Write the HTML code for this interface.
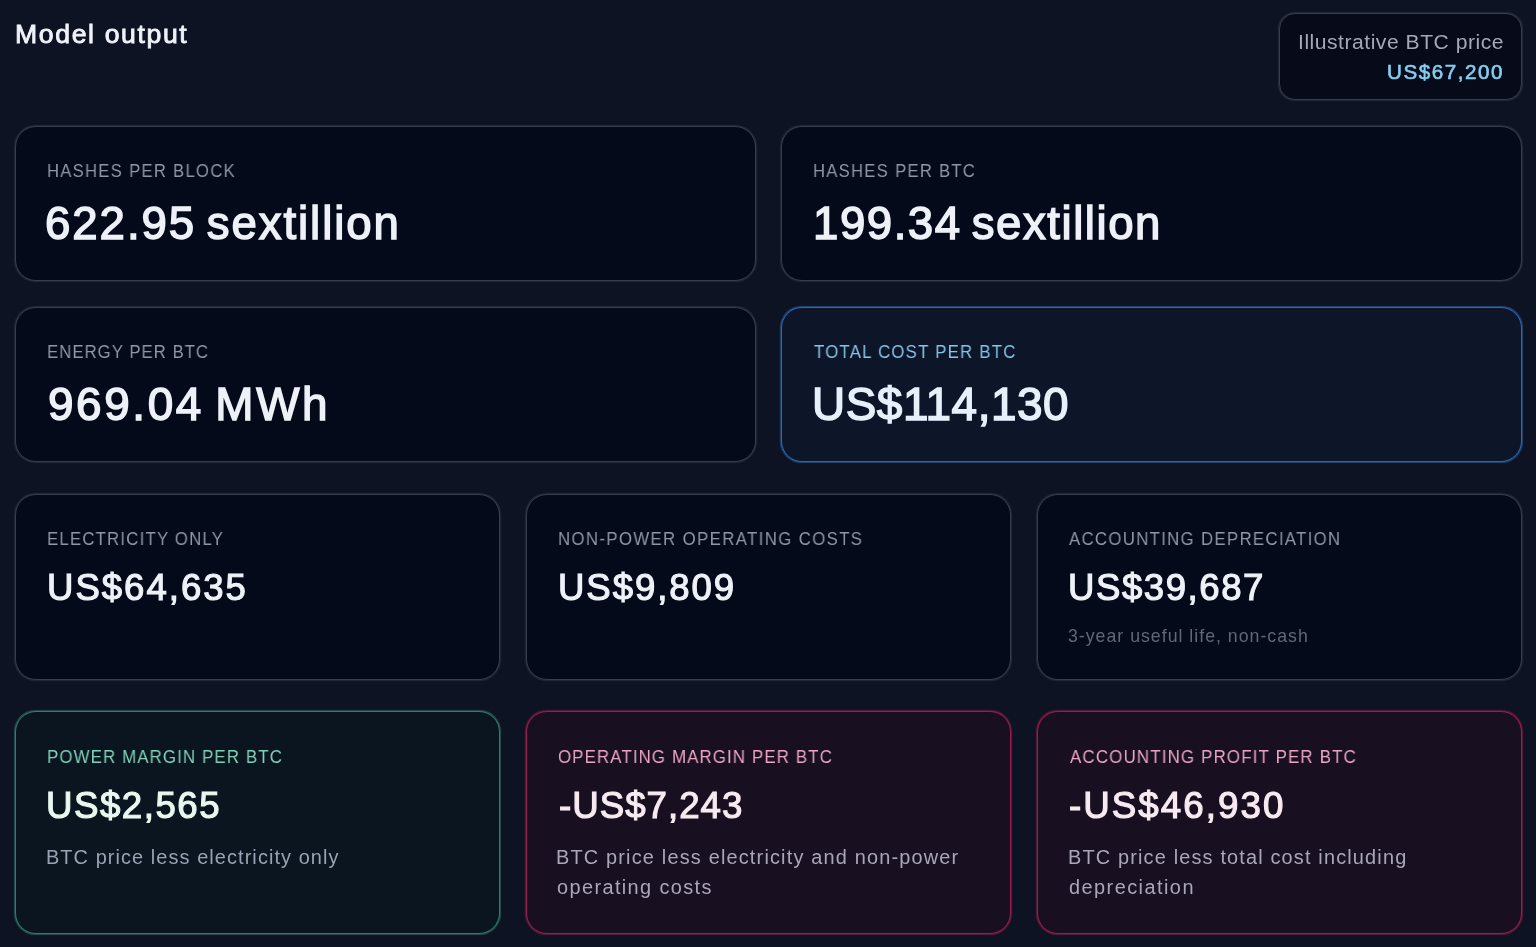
<!DOCTYPE html>
<html>
<head>
<meta charset="utf-8">
<style>
html,body{margin:0;padding:0;}
body{width:1536px;height:947px;overflow:hidden;background:#0d1323;font-family:"Liberation Sans",sans-serif;position:relative;}
.t{position:absolute;white-space:nowrap;line-height:1;will-change:transform;}
.card{position:absolute;box-sizing:border-box;border:1px solid #363d4f;border-radius:21px;background:#050a1a;box-shadow:0 0 1px 0.3px rgba(54,61,79,0.5);}
</style>
</head>
<body>
<div class="card" style="left:1279px;top:13px;width:243px;height:87px;border-radius:16px;background:#060a19;"></div>
<div class="card" style="left:15px;top:126px;width:741px;height:155px;"></div>
<div class="card" style="left:781px;top:126px;width:741px;height:155px;"></div>
<div class="card" style="left:15px;top:307px;width:741px;height:155px;"></div>
<div class="card" style="left:781px;top:307px;width:741px;height:155px;border-color:#2d68ab;background:#0d1628;box-shadow:0 0 1px 0.3px rgba(45,104,171,0.6);"></div>
<div class="card" style="left:15px;top:494px;width:485px;height:186px;"></div>
<div class="card" style="left:526px;top:494px;width:485px;height:186px;"></div>
<div class="card" style="left:1037px;top:494px;width:485px;height:186px;"></div>
<div class="card" style="left:15px;top:711px;width:485px;height:223px;border-color:#337a70;background:#0a151f;box-shadow:0 0 1px 0.3px rgba(51,122,112,0.6);"></div>
<div class="card" style="left:526px;top:711px;width:485px;height:223px;border-color:#9a1d4d;background:#181021;box-shadow:0 0 1px 0.3px rgba(154,29,77,0.6);"></div>
<div class="card" style="left:1037px;top:711px;width:485px;height:223px;border-color:#9a1d4d;background:#181021;box-shadow:0 0 1px 0.3px rgba(154,29,77,0.6);"></div>

<div class="t" id="title" style="top:20.65px;font-size:26.60px;letter-spacing:1.636px;color:#f1f3fa;left:14.50px;-webkit-text-stroke:0.86px #f1f3fa;">Model output</div>
<div class="t" id="plab" style="top:30.76px;font-size:21.08px;letter-spacing:0.524px;color:#a3a9b6;right:32.00px;">Illustrative BTC price</div>
<div class="t" id="pval" style="top:62.36px;font-size:20.57px;letter-spacing:1.563px;color:#86cdf0;right:32.00px;-webkit-text-stroke:0.65px #86cdf0;">US$67,200</div>
<div class="t" id="r1c1l" style="top:162.47px;font-size:18.46px;letter-spacing:1.467px;color:#8e97a8;left:47.20px;transform:scaleX(0.9);transform-origin:left center;">HASHES PER BLOCK</div>
<div class="t" id="r1c1v" style="top:200.68px;font-size:45.60px;letter-spacing:1.938px;color:#eef1f8;left:45.00px;-webkit-text-stroke:1.43px #eef1f8;word-spacing:-4px;">622.95 sextillion</div>
<div class="t" id="r1c2l" style="top:162.47px;font-size:18.46px;letter-spacing:1.462px;color:#8e97a8;left:813.40px;transform:scaleX(0.9);transform-origin:left center;">HASHES PER BTC</div>
<div class="t" id="r1c2v" style="top:200.68px;font-size:45.60px;letter-spacing:1.525px;color:#eef1f8;left:812.50px;-webkit-text-stroke:1.43px #eef1f8;word-spacing:-4px;">199.34 sextillion</div>
<div class="t" id="r2c1l" style="top:343.35px;font-size:18.60px;letter-spacing:1.154px;color:#8e97a8;left:46.80px;transform:scaleX(0.9);transform-origin:left center;">ENERGY PER BTC</div>
<div class="t" id="r2c1v" style="top:381.64px;font-size:45.87px;letter-spacing:2.617px;color:#eef1f8;left:47.75px;-webkit-text-stroke:1.44px #eef1f8;word-spacing:-4px;">969.04 MWh</div>
<div class="t" id="r2c2l" style="top:343.35px;font-size:18.60px;letter-spacing:1.412px;color:#87c4e6;left:814.40px;transform:scaleX(0.9);transform-origin:left center;">TOTAL COST PER BTC</div>
<div class="t" id="r2c2v" style="top:381.64px;font-size:45.87px;letter-spacing:0.556px;color:#e6f0fa;left:812.00px;-webkit-text-stroke:1.44px #e6f0fa;">US$114,130</div>
<div class="t" id="r3c1l" style="top:530.35px;font-size:18.60px;letter-spacing:1.367px;color:#8e97a8;left:47.20px;transform:scaleX(0.9);transform-origin:left center;">ELECTRICITY ONLY</div>
<div class="t" id="r3c1v" style="top:570.37px;font-size:36.56px;letter-spacing:2.000px;color:#eef1f8;left:47.00px;-webkit-text-stroke:1.15px #eef1f8;">US$64,635</div>
<div class="t" id="r3c2l" style="top:530.35px;font-size:18.60px;letter-spacing:1.562px;color:#8e97a8;left:557.80px;transform:scaleX(0.9);transform-origin:left center;">NON-POWER OPERATING COSTS</div>
<div class="t" id="r3c2v" style="top:570.37px;font-size:36.56px;letter-spacing:1.929px;color:#eef1f8;left:558.00px;-webkit-text-stroke:1.15px #eef1f8;">US$9,809</div>
<div class="t" id="r3c3l" style="top:530.35px;font-size:18.60px;letter-spacing:1.500px;color:#8e97a8;left:1069.00px;transform:scaleX(0.9);transform-origin:left center;">ACCOUNTING DEPRECIATION</div>
<div class="t" id="r3c3v" style="top:570.37px;font-size:36.56px;letter-spacing:1.562px;color:#eef1f8;left:1068.00px;-webkit-text-stroke:1.15px #eef1f8;">US$39,687</div>
<div class="t" id="r3c3n" style="top:628.39px;font-size:17.73px;letter-spacing:1.000px;color:#5f6778;left:1068.00px;">3-year useful life, non-cash</div>
<div class="t" id="r4c1l" style="top:747.92px;font-size:18.75px;letter-spacing:1.237px;color:#7fd0b6;left:46.80px;transform:scaleX(0.9);transform-origin:left center;">POWER MARGIN PER BTC</div>
<div class="t" id="r4c1v" style="top:787.85px;font-size:36.70px;letter-spacing:1.500px;color:#e8f7ef;left:46.00px;-webkit-text-stroke:1.15px #e8f7ef;">US$2,565</div>
<div class="t" id="r4c1d" style="top:848.04px;font-size:19.91px;letter-spacing:1.083px;color:#98a3b3;left:46.00px;">BTC price less electricity only</div>
<div class="t" id="r4c2l" style="top:747.92px;font-size:18.75px;letter-spacing:1.239px;color:#eba4c2;left:558.20px;transform:scaleX(0.9);transform-origin:left center;">OPERATING MARGIN PER BTC</div>
<div class="t" id="r4c2v" style="top:787.85px;font-size:36.70px;letter-spacing:1.000px;color:#f7eaf0;left:558.60px;-webkit-text-stroke:1.15px #f7eaf0;">-US$7,243</div>
<div class="t" id="r4c2d1" style="top:848.04px;font-size:19.91px;letter-spacing:1.179px;color:#aaa6b9;left:556.00px;">BTC price less electricity and non-power</div>
<div class="t" id="r4c2d2" style="top:878.34px;font-size:19.91px;letter-spacing:1.393px;color:#aaa6b9;left:557.00px;">operating costs</div>
<div class="t" id="r4c3l" style="top:747.92px;font-size:18.75px;letter-spacing:1.312px;color:#eba4c2;left:1069.60px;transform:scaleX(0.9);transform-origin:left center;">ACCOUNTING PROFIT PER BTC</div>
<div class="t" id="r4c3v" style="top:787.85px;font-size:36.70px;letter-spacing:2.056px;color:#f7eaf0;left:1069.00px;-webkit-text-stroke:1.15px #f7eaf0;">-US$46,930</div>
<div class="t" id="r4c3d1" style="top:848.04px;font-size:19.91px;letter-spacing:1.162px;color:#aaa6b9;left:1067.60px;">BTC price less total cost including</div>
<div class="t" id="r4c3d2" style="top:878.34px;font-size:19.91px;letter-spacing:1.455px;color:#aaa6b9;left:1068.60px;">depreciation</div>
</body>
</html>
